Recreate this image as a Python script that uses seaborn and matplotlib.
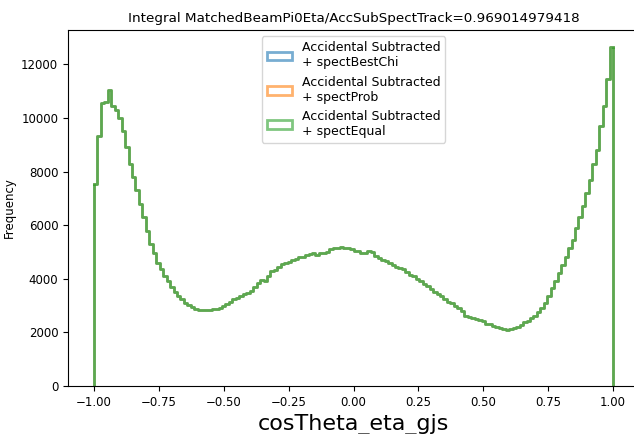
import numpy as np
import pandas as pd
import matplotlib
matplotlib.use("Agg")
import matplotlib.pyplot as plt
from matplotlib.patches import Patch
import seaborn as sns

# Histogram of cosTheta_eta_gjs, 150 bins over [-1, 1]
bin_lo, bin_hi, n_bins = -1.0, 1.0, 150

# Accidental-subtracted bin contents (identical for the three spectator choices)
counts_best_chi = [
    7540, 9325, 10550, 10600, 11050, 10450, 10300, 10000, 9500, 8900,
    8300, 7800, 7300, 6800, 6300, 5800, 5300, 4950, 4600, 4350,
    4100, 3900, 3700, 3500, 3350, 3250, 3100, 3020, 2930, 2880,
    2850, 2840, 2850, 2830, 2860, 2870, 2900, 2970, 3050, 3150,
    3250, 3300, 3350, 3420, 3480, 3550, 3700, 3850, 3950, 3920,
    4100, 4300, 4320, 4450, 4550, 4600, 4620, 4700, 4750, 4800,
    4820, 4900, 4920, 4950, 4900, 4980, 4950, 5000, 5100, 5150,
    5160, 5170, 5150, 5140, 5100, 5050, 5030, 4980, 4960, 5050,
    5000, 4850, 4780, 4700, 4650, 4580, 4500, 4450, 4400, 4350,
    4250, 4150, 4100, 3980, 3920, 3800, 3720, 3620, 3500, 3420,
    3350, 3250, 3150, 3080, 2980, 2900, 2800, 2620, 2580, 2550,
    2500, 2450, 2420, 2330, 2300, 2250, 2200, 2180, 2130, 2100,
    2110, 2150, 2200, 2280, 2380, 2420, 2550, 2600, 2750, 2900,
    3100, 3350, 3650, 3900, 4200, 4500, 4800, 5150, 5450, 5900,
    6300, 6700, 7200, 7700, 8300, 8800, 9700, 10450, 11450, 12650,
]
counts_prob = list(counts_best_chi)
counts_equal = list(counts_best_chi)

series_labels = [
    "Accidental Subtracted\n+ spectBestChi",
    "Accidental Subtracted\n+ spectProb",
    "Accidental Subtracted\n+ spectEqual",
]
series_counts = [counts_best_chi, counts_prob, counts_equal]
series_colors = ["tab:blue", "tab:orange", "tab:green"]
series_alpha = [0.3, 0.3, 0.7]

title_text = "Integral MatchedBeamPi0Eta/AccSubSpectTrack=0.969014979418"

edges = np.linspace(bin_lo, bin_hi, n_bins + 1)
centers = 0.5 * (edges[:-1] + edges[1:])

W, H = 634, 434
fig = plt.figure(figsize=(W / 100, H / 100), dpi=100)
ax = fig.add_axes([68 / W, 48 / H, 571 / W, 356 / H])

for label, counts, color, a in zip(series_labels, series_counts,
                                   series_colors, series_alpha):
    df = pd.DataFrame({"cosTheta_eta_gjs": centers, "w": counts})
    sns.histplot(
        data=df, x="cosTheta_eta_gjs", weights="w",
        bins=n_bins, binrange=(bin_lo, bin_hi),
        element="step", fill=False, color=color, alpha=a,
        linewidth=2, ax=ax,
    )
    # close the step outline down to the baseline at both ends
    ax.vlines([edges[0], edges[-1]], 0, [counts[0], counts[-1]],
              color=color, alpha=a, linewidth=2)

ax.set_xlim(-1.1, 1.1)
ax.set_ylim(bottom=0)
ax.set_xticks(np.arange(-1.0, 1.01, 0.25))
ax.set_yticks(np.arange(0, 12001, 2000))
ax.tick_params(labelsize=8.5)
ax.set_xlabel("cosTheta_eta_gjs", fontsize=16)
ax.set_ylabel("Frequency", fontsize=8.5)
ax.set_title(title_text, fontsize=9.7)

handles = [Patch(facecolor="none", edgecolor=c, alpha=0.6, linewidth=2)
           for c in series_colors]
ax.legend(handles, series_labels, loc="upper center", fontsize=9,
          handlelength=2.0)

fig.savefig("out.png", dpi=100)
